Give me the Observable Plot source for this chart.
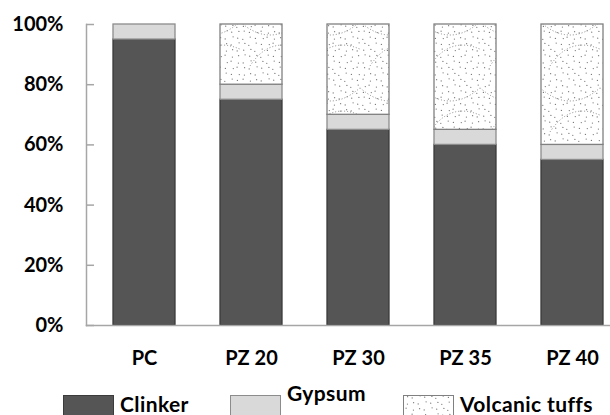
<!DOCTYPE html>
<html>
<head>
<meta charset="utf-8">
<script src="https://cdn.jsdelivr.net/npm/d3@7"></script>
<script src="https://cdn.jsdelivr.net/npm/@observablehq/plot@0.6"></script>
<style>
  html, body { margin: 0; padding: 0; background: #fff; overflow: hidden; }
  #wrap { position: relative; width: 610px; height: 415px; overflow: hidden; }
  #legend { position: relative; width: 610px; height: 35px; font-family: Lato, sans-serif; font-weight: 700; font-size: 21px; letter-spacing: 0.4px; color: #000; }
  .item { position: absolute; display: block; }
  .item svg { position: absolute; left: 0; top: 15px; overflow: visible; }
  .item span { position: absolute; white-space: nowrap; line-height: 1; }
</style>
</head>
<body>
<div id="wrap"></div>
<script>
// ---- data ----
const categories = ["PC", "PZ 20", "PZ 30", "PZ 35", "PZ 40"];
const seriesNames = ["Clinker", "Gypsum", "Volcanic tuffs"];
const clinker = [95, 75, 65, 60, 55];
const gypsum = [5, 5, 5, 5, 5];
const tuffs = [0, 20, 30, 35, 40];
const yTicks = [0, 20, 40, 60, 80, 100];

// ---- styles ----
const fills = ["#555555", "#d9d9d9", "url(#tuffs)"];
const strokes = ["#3b3b3b", "#8c8c8c", "#808080"];

const seriesValues = [clinker, gypsum, tuffs];
const rows = [];
categories.forEach((cat, i) => {
  let lo = 0;
  seriesNames.forEach((s, j) => {
    const v = seriesValues[j][i];
    if (v > 0) rows.push({cat, series: s, lo, hi: lo + v});
    lo += v;
  });
});

const plot = Plot.plot({
  width: 610,
  height: 380,
  marginLeft: 86,
  marginRight: 0,
  marginTop: 24,
  marginBottom: 55,
  style: {fontFamily: "Lato, sans-serif", fontSize: "20px", fontWeight: 700, color: "#000", background: "#fff", overflow: "visible"},
  x: {domain: categories, range: [86, 630], paddingInner: 0.425, paddingOuter: 0.232, label: null},
  y: {domain: [0, 100], label: null},
  marks: [
    ...seriesNames.map((s, j) => Plot.barY(rows.filter(r => r.series === s), {
      x: "cat", y1: "lo", y2: "hi", fill: fills[j], stroke: strokes[j], strokeWidth: 1.3
    })),
    Plot.frame({anchor: "left", stroke: "#a6a6a6", strokeWidth: 1.5}),
    Plot.frame({anchor: "bottom", stroke: "#a6a6a6", strokeWidth: 1.5}),
    Plot.axisY({ticks: yTicks, tickSize: -8, tickFormat: () => "", stroke: "#a6a6a6", strokeWidth: 1.5}),
    Plot.axisY({ticks: yTicks, tickSize: 0, tickPadding: 23, tickFormat: d => d + "%", fill: "#000"}),
    Plot.axisX({tickSize: 0, tickPadding: 25, fill: "#000"})
  ]
});

// pattern for volcanic tuffs
const NS = "http://www.w3.org/2000/svg";
const defs = document.createElementNS(NS, "defs");
const pat = document.createElementNS(NS, "pattern");
pat.setAttribute("id", "tuffs");
pat.setAttribute("patternUnits", "userSpaceOnUse");
pat.setAttribute("width", 60);
pat.setAttribute("height", 66);
const bg = document.createElementNS(NS, "rect");
bg.setAttribute("width", 60); bg.setAttribute("height", 66); bg.setAttribute("fill", "#fff");
pat.appendChild(bg);
const jit = [0.6, -0.8, 1.1, -0.3, 0.9, -1.2, 0.2, -0.6, 1.3, -0.9, 0.4];
let k = 0;
for (let yy = 2; yy < 66; yy += 6) {
  for (let xx = ((yy / 6) % 2 ? 4 : 1); xx < 60; xx += 6) {
    const c = document.createElementNS(NS, "circle");
    c.setAttribute("cx", xx + jit[k % jit.length]);
    c.setAttribute("cy", yy + jit[(k + 3) % jit.length]);
    c.setAttribute("r", 0.65);
    c.setAttribute("fill", "#777");
    pat.appendChild(c);
    k++;
  }
}
const arc = document.createElementNS(NS, "path");
arc.setAttribute("d", "M-2,20 Q30,50 62,20 M10,66 Q30,35 62,50");
arc.setAttribute("fill", "none");
arc.setAttribute("stroke", "#888");
arc.setAttribute("stroke-width", 1);
arc.setAttribute("stroke-dasharray", "1 2");
pat.appendChild(arc);
defs.appendChild(pat);
plot.insertBefore(defs, plot.firstChild);

const wrap = document.getElementById("wrap");
wrap.appendChild(plot);

// legend
const legend = document.createElement("div");
legend.id = "legend";
const swX = [63, 230, 403];
const txX = [120, 287, 460];
const txY = [13, 2, 13];
seriesNames.forEach((s, j) => {
  const item = document.createElement("div");
  item.className = "item";
  item.style.left = swX[j] + "px";
  item.style.top = "0px";
  const sw = document.createElementNS(NS, "svg");
  sw.setAttribute("width", 51); sw.setAttribute("height", 22);
  const r = document.createElementNS(NS, "rect");
  r.setAttribute("x", 0.5); r.setAttribute("y", 0.5);
  r.setAttribute("width", 50); r.setAttribute("height", 22);
  r.setAttribute("fill", fills[j]); r.setAttribute("stroke", strokes[j]);
  sw.appendChild(r);
  item.appendChild(sw);
  legend.appendChild(item);
  const t = document.createElement("span");
  t.className = "item";
  t.textContent = s;
  t.style.left = txX[j] + "px";
  t.style.top = txY[j] + "px";
  t.style.lineHeight = "1";
  legend.appendChild(t);
});
wrap.appendChild(legend);
</script>
</body>
</html>
